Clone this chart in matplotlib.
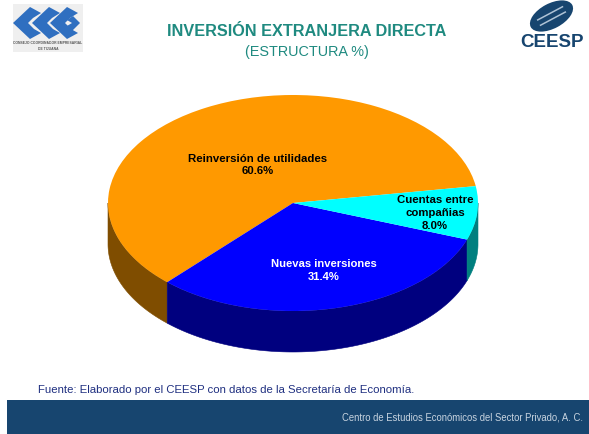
import numpy as np
import matplotlib
matplotlib.use("Agg")
import matplotlib.pyplot as plt
from matplotlib.patches import Ellipse, Polygon, Rectangle
from matplotlib.transforms import Affine2D

plt.rcParams['font.family'] = ['Liberation Sans', 'DejaVu Sans']

labels = ["Reinversión de utilidades\n60.6%", "Nuevas inversiones\n31.4%", "Cuentas entre\ncompañias\n8.0%"]
values = [60.6, 31.4, 8.0]
colors = ["#FF9900", "#0000FF", "#00FFFF"]
side_colors = ["#7F4D00", "#00007F", "#007F7F"]
start_angle = 9.0

W, H = 589, 435
CX, CY, RX, RY, DEPTH = 293, 204, 185, 108, 41

fig = plt.figure(figsize=(W / 100, H / 100), dpi=100, facecolor="white")

# Pie axes: unit circle squeezed to the ellipse, so angles stay pie angles
ax = fig.add_axes([0, 0, 1, 1], zorder=1)
ax.pie(values, colors=colors, startangle=start_angle, radius=1, center=(0, 0),
       wedgeprops=dict(linewidth=0), normalize=True)
ax.set_aspect("auto")
ax.set_xlim(-CX / RX, (W - CX) / RX)
ax.set_ylim((CY - H) / RY, CY / RY)
ax.axis("off")

# Side wall of the pie
d = DEPTH / RY
edges = start_angle + np.concatenate([[0], np.cumsum(values)]) * 3.6
for a0, a1, c in zip(edges[:-1], edges[1:], side_colors):
    lo, hi = max(a0, 180), min(a1, 360)
    if hi <= lo:
        continue
    t = np.radians(np.linspace(lo, hi, 120))
    x, y = np.cos(t), np.sin(t)
    ax.fill(np.r_[x, x[::-1]], np.r_[y, y[::-1] - d], color=c, lw=0.4, zorder=0)

# Overlay in image pixels
ov = fig.add_axes([0, 0, 1, 1], zorder=2)
ov.set_xlim(0, W)
ov.set_ylim(H, 0)
ov.axis("off")

NAVY = "#17456F"
TEAL = "#1F8A80"

ov.text(306.5, 32, "INVERSIÓN EXTRANJERA DIRECTA", ha="center", va="center",
        fontsize=11.7, fontweight="bold", color=TEAL)
ov.text(306.5, 52, "(ESTRUCTURA %)", ha="center", va="center", fontsize=10.4, color=TEAL)

ov.text(257.5, 165, labels[0], ha="center", va="center", fontsize=8.2, fontweight="bold",
        color="black", linespacing=1.3)
ov.text(323.5, 270.5, labels[1], ha="center", va="center", fontsize=8.15, fontweight="bold",
        color="white", linespacing=1.45)
ov.text(435, 213, labels[2], ha="center", va="center", fontsize=8.2, fontweight="bold",
        color="black", linespacing=1.4)

ov.add_patch(Rectangle((7, 401), W - 7, 34, color=NAVY, lw=0))
ov.text(38, 390, "Fuente: Elaborado por el CEESP con datos de la Secretaría de Economía.",
        ha="left", va="center", fontsize=8.2, color="#1F2F80")
ov.text(583, 418, "Centro de Estudios Económicos del Sector Privado, A. C.",
        ha="right", va="center", fontsize=6.85, color="#C8D4E0")

# CCE logo
ov.add_patch(Rectangle((13, 5), 70, 48, color="#EFEFEF", lw=0))
BLUE = "#2F6FC0"
for cx in (30, 49, 67):
    ov.add_patch(Polygon([(cx - 17, 24), (cx, 8), (cx + 11, 14), (cx + 3, 19), (cx - 2, 24),
                          (cx + 4, 30), (cx + 11, 34), (cx, 40)],
                         closed=True, color=BLUE, lw=0))
ov.add_patch(Polygon([(67, 21), (73, 17), (80, 24), (72, 32), (67, 27), (72, 24)],
                     closed=True, color=BLUE, lw=0))
ov.text(48, 43.5, "CONSEJO COORDINADOR EMPRESARIAL", ha="center", va="center",
        fontsize=2.4, fontweight="bold", color="#555555")
ov.text(48, 48.5, "DE TIJUANA", ha="center", va="center",
        fontsize=2.4, fontweight="bold", color="#555555")

# CEESP logo
rot = Affine2D().rotate_deg_around(551.5, 17, -28) + ov.transData
ov.add_patch(Ellipse((551.5, 17), 47, 25, color=NAVY, lw=0, transform=rot))
for off, ln in ((-3, 14), (3, 14)):
    ov.plot([551.5 - ln, 551.5 + ln], [17 + off, 17 + off], color="#AFC3D6", lw=1.1, transform=rot)
ov.text(552, 42.5, "CEESP", ha="center", va="center", fontsize=13.5, fontweight="bold", color=NAVY)

fig.savefig("out.png", dpi=100, facecolor="white")
